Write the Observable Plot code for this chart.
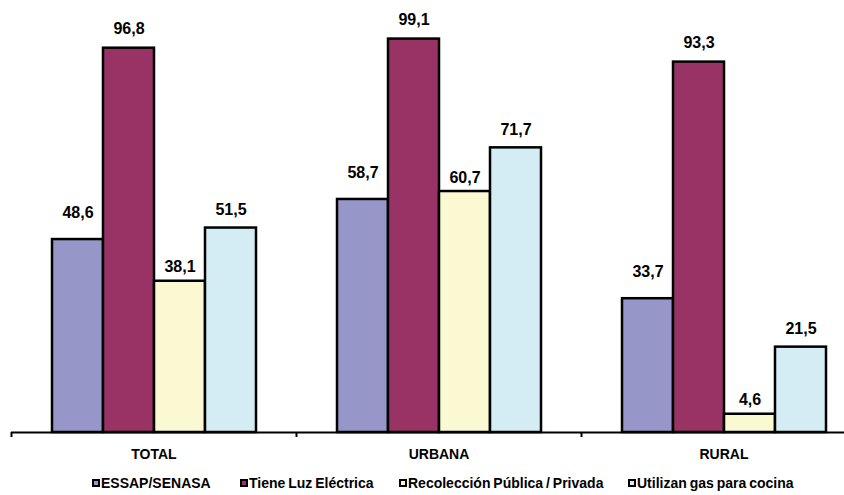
<!DOCTYPE html>
<html>
<head>
<meta charset="utf-8">
<script src="https://cdn.jsdelivr.net/npm/d3@7"></script>
<script src="https://cdn.jsdelivr.net/npm/@observablehq/plot@0.6"></script>
<style>
  html, body { margin: 0; padding: 0; background: white; overflow: hidden; }
  body { width: 844px; height: 495px; font-family: "Liberation Sans", Arial, sans-serif; }
  #legend { position: relative; height: 25px; font-size: 14px; font-weight: bold; color: #000; }
  #legend .item { position: absolute; top: 0; height: 25px; display: flex; align-items: center; gap: 1px;
    white-space: nowrap; word-spacing: -1px; }
  #legend .sw { width: 4px; height: 4px; border: 2px solid #000; display: inline-block; }
</style>
</head>
<body>
<div id="chart"></div>
<div id="legend"></div>
<script>
const categories = ["TOTAL", "URBANA", "RURAL"];
const series = ["ESSAP/SENASA", "Tiene Luz Eléctrica", "Recolección Pública / Privada", "Utilizan gas para cocina"];
const essap = [48.6, 58.7, 33.7];
const luz = [96.8, 99.1, 93.3];
const recoleccion = [38.1, 60.7, 4.6];
const gas = [51.5, 71.7, 21.5];
const colors = ["#9696C8", "#993366", "#FAF9D2", "#D4EDF4"];
const labelOffsets = [-27, -19, -14, -18];
const legendLefts = [92, 240, 399, 628];

const valuesBySeries = [essap, luz, recoleccion, gas];
const data = [];
categories.forEach((c, i) => {
  series.forEach((s, j) => data.push({cat: c, serie: s, value: valuesBySeries[j][i]}));
});

const fxRange = [11, 866];
const band = (fxRange[1] - fxRange[0]) / categories.length;

const chart = Plot.plot({
  width: 844,
  height: 470,
  marginTop: 0,
  marginBottom: 38,
  marginLeft: 11,
  marginRight: 0,
  style: {fontFamily: "'Liberation Sans', Arial, sans-serif", color: "#000", background: "white"},
  fx: {domain: categories, range: fxRange, padding: 0, label: null},
  x: {domain: series, paddingInner: 0, paddingOuter: 0.754, axis: null},
  y: {domain: [0, 100], range: [432, 35], axis: null},
  color: {domain: series, range: colors},
  marks: [
    Plot.barY(data, {fx: "cat", x: "serie", y: "value", fill: "serie", stroke: "#000", strokeWidth: 2.5}),
    ...series.map((s, j) => Plot.text(data.filter(d => d.serie === s), {fx: "cat", x: "serie", y: "value",
      text: d => d.value.toFixed(1).replace(".", ","),
      dy: labelOffsets[j], fontSize: 16, fontWeight: "bold", fill: "#000"})),
    Plot.ruleY([0], {stroke: "#000", strokeWidth: 2}),
    Plot.axisFx({anchor: "bottom", tickSize: 0, tickPadding: 17, fontSize: 14, fontWeight: "bold", label: null}),
    Plot.axisFx({anchor: "bottom", tickSize: 5, strokeWidth: 2, tickFormat: () => "", label: null, dx: -band / 2})
  ]
});
document.getElementById("chart").appendChild(chart);

const legend = document.getElementById("legend");
series.forEach((s, j) => {
  const item = document.createElement("div");
  item.className = "item";
  item.style.left = legendLefts[j] + "px";
  const sw = document.createElement("span");
  sw.className = "sw";
  sw.style.background = colors[j];
  const t = document.createElement("span");
  t.textContent = s;
  item.appendChild(sw);
  item.appendChild(t);
  legend.appendChild(item);
});
</script>
</body>
</html>
